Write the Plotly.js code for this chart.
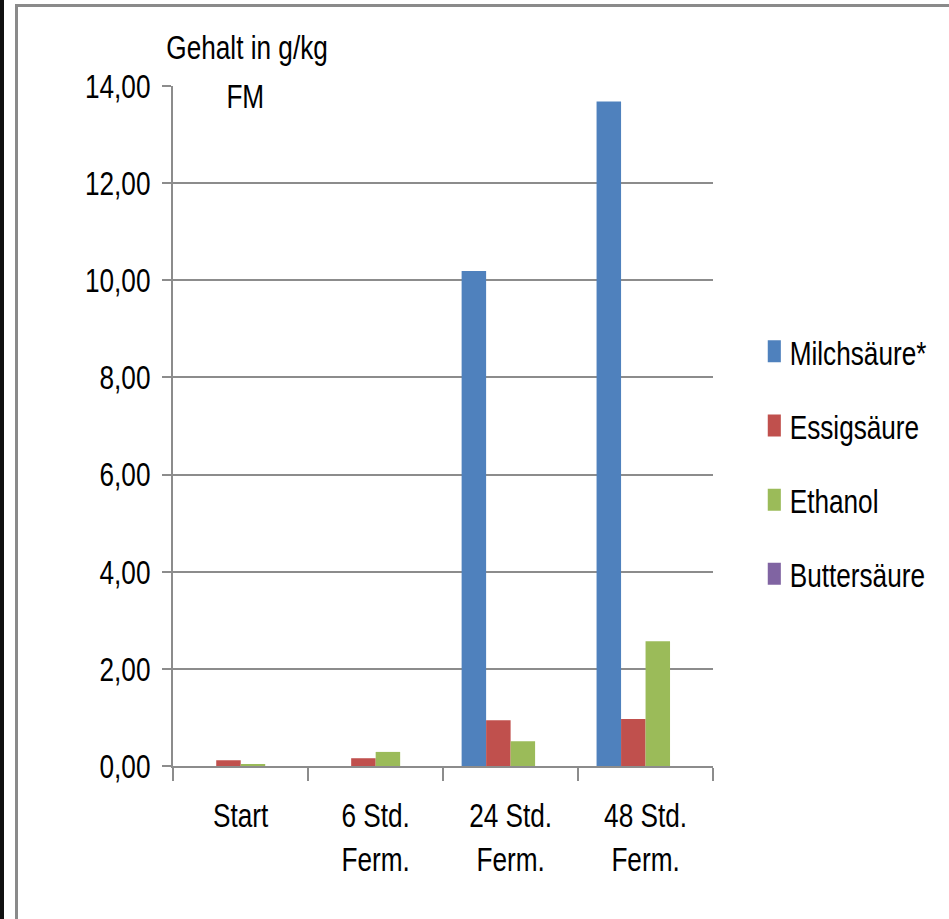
<!DOCTYPE html>
<html>
<head>
<meta charset="utf-8">
<script src="https://cdn.plot.ly/plotly-3.0.1.min.js"></script>
<style>
  html, body { margin: 0; padding: 0; background: #fff; }
  #wrap { position: relative; width: 949px; height: 919px; overflow: hidden; }
  /* the chart is laid out wide and squeezed horizontally to give the narrow lettering */
  #chart { position: absolute; left: 0; top: 0; width: 1233px; height: 919px;
           transform: scaleX(0.77); transform-origin: 0 0; }
  .edge-dark { position: absolute; left: 0; top: 0; width: 4px; height: 919px; background: #111; }
  .edge-left { position: absolute; left: 15px; top: 4px; width: 3px; height: 915px; background: #8a8a8a; }
  .edge-top { position: absolute; left: 15px; top: 4px; width: 934px; height: 3px; background: #8a8a8a; }
</style>
</head>
<body>
<div id="wrap">
  <div id="chart"></div>
  <div class="edge-dark"></div>
  <div class="edge-left"></div>
  <div class="edge-top"></div>
</div>
<script>
// Fermentation stages
const categories = ['Start', '6 Std.<br>Ferm.', '24 Std.<br>Ferm.', '48 Std.<br>Ferm.'];

// Content in g/kg FM
const milchsaeure = [0, 0, 10.19, 13.68];
const essigsaeure = [0.12, 0.16, 0.94, 0.97];
const ethanol = [0.04, 0.29, 0.51, 2.57];
const buttersaeure = [0, 0, 0, 0];

const seriesNames = ['Milchsäure*', 'Essigsäure', 'Ethanol', 'Buttersäure'];
const seriesColors = ['#4F81BD', '#C0504D', '#9BBB59', '#8064A2'];
const seriesValues = [milchsaeure, essigsaeure, ethanol, buttersaeure];

const FONT = '"Liberation Sans", Arial, sans-serif';
const FS = 34;
const GRID = '#8c8c8c';

const traces = seriesValues.map((vals, i) => ({
  type: 'bar',
  x: categories,
  y: vals,
  name: seriesNames[i],
  legendgroup: 'g' + i,
  marker: { color: seriesColors[i], line: { width: 0 } },
  hoverinfo: 'x+y+name'
}));

const layout = {
  width: 1233,
  height: 919,
  margin: { l: 225, r: 307, t: 86, b: 153 },
  paper_bgcolor: 'rgba(0,0,0,0)',
  plot_bgcolor: '#fff',
  separators: ', ',
  font: { family: FONT, size: FS, color: '#000' },
  barmode: 'group',
  bargap: 0.274,
  bargroupgap: 0,
  showlegend: true,
  legend: {
    x: 1.085, xanchor: 'left',
    y: 0.652, yanchor: 'top',
    traceorder: 'grouped',
    tracegroupgap: 27,
    font: { family: FONT, size: FS, color: '#000' },
    bgcolor: 'rgba(0,0,0,0)',
    itemclick: false
  },
  xaxis: {
    type: 'category',
    tickson: 'boundaries',
    ticks: 'outside',
    ticklen: 13,
    tickwidth: 2.6,
    tickcolor: GRID,
    showline: true,
    linecolor: GRID,
    linewidth: 2,
    showgrid: false,
    zeroline: false,
    ticklabelstandoff: 18,
    tickfont: { family: FONT, size: FS, color: '#000' },
    fixedrange: true
  },
  yaxis: {
    range: [0, 14],
    dtick: 2,
    tick0: 0,
    tickformat: '.2f',
    ticks: 'outside',
    ticklen: 12,
    tickwidth: 2,
    tickcolor: GRID,
    showline: true,
    linecolor: GRID,
    linewidth: 2.6,
    showgrid: true,
    gridcolor: GRID,
    gridwidth: 2,
    zeroline: false,
    ticklabelstandoff: 8,
    tickfont: { family: FONT, size: FS, color: '#000' },
    fixedrange: true
  },
  annotations: [
    {
      text: 'Gehalt in g/kg',
      xref: 'paper', yref: 'paper',
      x: 0.137, y: 1.057,
      xanchor: 'center', yanchor: 'middle',
      showarrow: false,
      font: { family: FONT, size: FS, color: '#000' }
    },
    {
      text: 'FM',
      xref: 'paper', yref: 'paper',
      x: 0.133, y: 0.985,
      xanchor: 'center', yanchor: 'middle',
      showarrow: false,
      font: { family: FONT, size: FS, color: '#000' }
    }
  ]
};

Plotly.newPlot('chart', traces, layout, { displayModeBar: false }).then(gd => {
  // taller legend keys
  gd.querySelectorAll('.legend .legendpoints path').forEach(p => {
    p.setAttribute('d', 'M8.5,11H-8.5V-11H8.5Z');
  });
});
</script>
</body>
</html>
